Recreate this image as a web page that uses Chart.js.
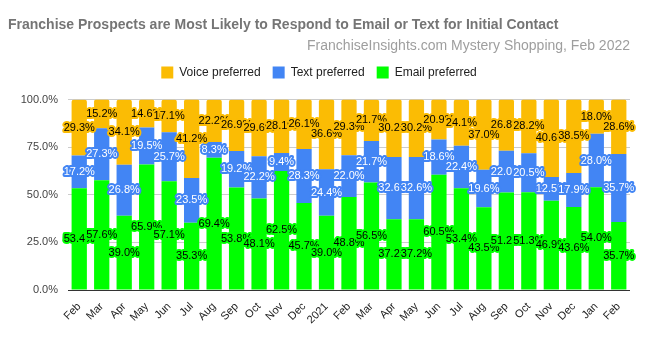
<!DOCTYPE html>
<html>
<head>
<meta charset="utf-8">
<script src="https://cdn.jsdelivr.net/npm/chart.js@4/dist/chart.umd.min.js"></script>
<style>
  html, body { margin: 0; padding: 0; background: #fff; }
  #wrap { width: 650px; height: 339px; position: relative; }
</style>
</head>
<body>
<div id="wrap"><canvas id="c" width="650" height="339"></canvas></div>
<script>
const categories = ["Feb","Mar","Apr","May","Jun","Jul","Aug","Sep","Oct","Nov","Dec","2021","Feb","Mar","Apr","May","Jun","Jul","Aug","Sep","Oct","Nov","Dec","Jan","Feb"];
const emailPreferred = [53.4,57.6,39.0,65.9,57.1,35.3,69.4,53.8,48.1,62.5,45.7,39.0,48.8,56.5,37.2,37.2,60.5,53.4,43.5,51.2,51.3,46.9,43.6,54.0,35.7];
const textPreferred  = [17.2,27.3,26.8,19.5,25.7,23.5,8.3,19.2,22.2,9.4,28.3,24.4,22.0,21.7,32.6,32.6,18.6,22.4,19.6,22.0,20.5,12.5,17.9,28.0,35.7];
const voicePreferred = [29.3,15.2,34.1,14.6,17.1,41.2,22.2,26.9,29.6,28.1,26.1,36.6,29.3,21.7,30.2,30.2,20.9,24.1,37.0,26.8,28.2,40.6,38.5,18.0,28.6];
const yTicks = [0, 25, 50, 75, 100];

const FONT = "'Liberation Sans', Arial, sans-serif";

const labelPlugin = {
  id: 'barLabels',
  afterDatasetsDraw(chart) {
    const ctx = chart.ctx;
    ctx.save();
    ctx.font = "11px " + FONT;
    ctx.textAlign = 'center';
    ctx.textBaseline = 'middle';
    ctx.lineJoin = 'round';
    chart.data.datasets.forEach((ds, di) => {
      const meta = chart.getDatasetMeta(di);
      if (meta.hidden) return;
      meta.data.forEach((el, i) => {
        const v = ds.data[i];
        const txt = v.toFixed(1) + '%';
        const x = el.x;
        const y = (el.y + el.base) / 2;
        ctx.lineWidth = 4;
        ctx.strokeStyle = ds.backgroundColor;
        ctx.strokeText(txt, x, y);
        ctx.fillStyle = ds.labelColor;
        ctx.fillText(txt, x, y);
      });
    });
    ctx.restore();
  }
};

const legendSpacing = {
  id: 'legendSpacing',
  afterInit(chart) {
    const lg = chart.legend;
    if (!lg) return;
    const orig = lg.fit;
    lg.fit = function () { orig.call(this); this.height += 11; };
  }
};

new Chart(document.getElementById('c'), {
  type: 'bar',
  data: {
    labels: categories,
    datasets: [
      { label: 'Email preferred', data: emailPreferred, backgroundColor: '#00ff00', labelColor: '#000', barPercentage: 0.68, categoryPercentage: 1 },
      { label: 'Text preferred', data: textPreferred, backgroundColor: '#4285f4', labelColor: '#fff', barPercentage: 0.68, categoryPercentage: 1 },
      { label: 'Voice preferred', data: voicePreferred, backgroundColor: '#fbbc04', labelColor: '#000', barPercentage: 0.68, categoryPercentage: 1,
        borderRadius: { topLeft: 2, topRight: 2, bottomLeft: 0, bottomRight: 0 }, borderSkipped: false }
    ]
  },
  options: {
    responsive: false,
    animation: false,
    layout: { padding: { left: 8, right: 20, top: 0, bottom: 0 } },
    plugins: {
      title: {
        display: true,
        text: 'Franchise Prospects are Most Likely to Respond to Email or Text for Initial Contact',
        align: 'start',
        color: '#757575',
        font: { family: FONT, size: 14, weight: 'bold' },
        padding: { top: 17, bottom: 4 }
      },
      subtitle: {
        display: true,
        text: 'FranchiseInsights.com Mystery Shopping, Feb 2022',
        align: 'end',
        color: '#9e9e9e',
        font: { family: FONT, size: 14 },
        padding: { top: 0, bottom: 0 }
      },
      legend: {
        display: true,
        reverse: true,
        labels: {
          boxWidth: 12, boxHeight: 12, padding: 12,
          color: '#222',
          font: { family: FONT, size: 12 }
        }
      },
      tooltip: { enabled: false }
    },
    scales: {
      x: {
        stacked: true,
        grid: { display: false },
        border: { display: false },
        afterFit(scale) { scale.height = 49; },
        ticks: { color: '#222', font: { family: FONT, size: 11 }, maxRotation: 45, minRotation: 45, autoSkip: false, padding: 2 }
      },
      y: {
        stacked: true,
        min: 0, max: 100,
        afterBuildTicks(scale) { scale.ticks = yTicks.map(v => ({ value: v })); },
        afterFit(scale) { scale.width = 60; },
        grid: {
          color: (c) => c.tick && c.tick.value === 0 ? '#333' : '#cccccc',
          lineWidth: 1,
          drawTicks: false
        },
        border: { display: false },
        ticks: {
          color: '#444',
          font: { family: FONT, size: 11 },
          padding: 10,
          callback: (v) => Number(v).toFixed(1) + '%'
        }
      }
    }
  },
  plugins: [labelPlugin, legendSpacing]
});
</script>
</body>
</html>
